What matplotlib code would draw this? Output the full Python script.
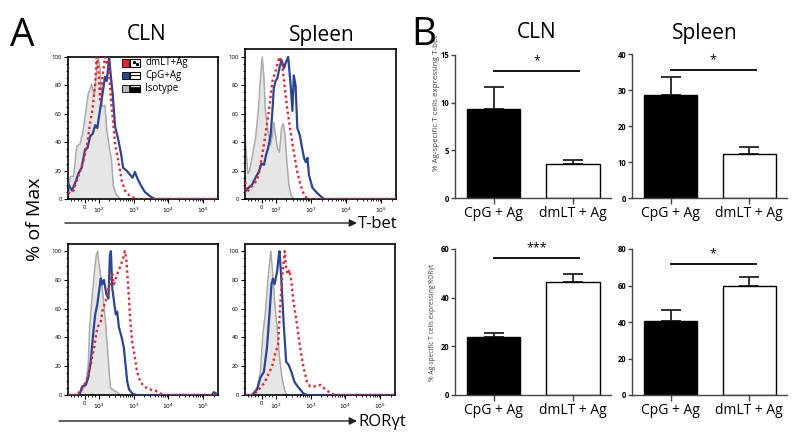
import matplotlib
matplotlib.use("Agg")
import matplotlib.pyplot as plt
from matplotlib.patches import Rectangle, FancyArrowPatch
import numpy as np

plt.rcParams['font.family'] = ['Open Sans', 'DejaVu Sans']

# ---- panel A: flow histograms (x in decades, "0" sits at 1.6; y = % of max)
tbet_cln_iso_x = [1.12, 1.16, 1.20, 1.28, 1.37, 1.47, 1.56, 1.61, 1.70, 1.80, 1.87, 1.94, 1.99, 2.04, 2.10, 2.18, 2.23, 2.30, 2.37, 2.42, 2.51, 2.61]
tbet_cln_iso_y = [0, 13, 16, 16, 37, 39, 49, 58, 74, 81, 72, 91, 100, 91, 65, 66, 49, 37, 27, 9, 3, 0]
tbet_cln_cpg_x = [1.12, 1.23, 1.32, 1.42, 1.51, 1.61, 1.68, 1.75, 1.83, 1.90, 1.96, 2.04, 2.11, 2.18, 2.23, 2.30, 2.35, 2.40, 2.47, 2.56, 2.64, 2.70, 2.80, 2.90, 2.97, 3.04, 3.10, 3.20, 3.32, 3.47, 3.61, 5.45]
tbet_cln_cpg_y = [11, 6, 11, 18, 22, 35, 36, 44, 46, 52, 50, 63, 74, 86, 83, 100, 86, 74, 51, 42, 32, 22, 20, 17, 15, 19, 15, 10, 5, 2, 0, 0]
tbet_cln_dm_x = [1.12, 1.18, 1.28, 1.37, 1.47, 1.56, 1.66, 1.75, 1.83, 1.90, 1.94, 1.99, 2.04, 2.11, 2.18, 2.23, 2.28, 2.32, 2.37, 2.47, 2.56, 2.66, 2.75, 2.90, 3.09, 5.45]
tbet_cln_dm_y = [5, 4, 6, 13, 20, 27, 37, 53, 65, 81, 100, 91, 70, 86, 100, 96, 98, 81, 65, 39, 27, 13, 6, 2, 0, 0]

tbet_spl_iso_x = [1.12, 1.15, 1.20, 1.25, 1.32, 1.42, 1.50, 1.56, 1.61, 1.66, 1.70, 1.78, 1.85, 1.90, 1.94, 1.99, 2.04, 2.10, 2.16, 2.21, 2.26, 2.32, 2.37, 2.44, 2.51]
tbet_spl_iso_y = [46, 35, 18, 20, 29, 43, 62, 85, 100, 85, 62, 47, 38, 45, 54, 45, 36, 33, 50, 53, 45, 24, 10, 2, 0]
tbet_spl_cpg_x = [1.12, 1.18, 1.32, 1.42, 1.51, 1.59, 1.66, 1.72, 1.78, 1.85, 1.90, 1.94, 1.99, 2.04, 2.10, 2.16, 2.23, 2.28, 2.35, 2.42, 2.47, 2.51, 2.56, 2.61, 2.68, 2.73, 2.80, 2.85, 2.90, 2.94, 3.04, 3.18, 3.37, 5.45]
tbet_spl_cpg_y = [5, 7, 10, 15, 19, 25, 24, 31, 36, 45, 62, 78, 83, 85, 92, 98, 92, 96, 100, 80, 62, 87, 80, 50, 45, 38, 29, 26, 29, 17, 8, 4, 0, 0]
tbet_spl_dm_x = [1.12, 1.18, 1.28, 1.42, 1.51, 1.61, 1.70, 1.80, 1.90, 1.99, 2.07, 2.10, 2.18, 2.23, 2.32, 2.42, 2.51, 2.61, 2.70, 2.80, 2.90, 5.45]
tbet_spl_dm_y = [12, 5, 8, 12, 17, 31, 45, 62, 83, 90, 97, 100, 94, 83, 64, 47, 33, 19, 10, 3, 0, 0]

ror_cln_iso_x = [1.12, 1.44, 1.53, 1.63, 1.70, 1.74, 1.80, 1.87, 1.93, 1.97, 2.01, 2.09, 2.15, 2.20, 2.25, 2.30, 2.34, 2.44, 2.53, 2.63]
ror_cln_iso_y = [0, 0, 3, 7, 21, 47, 65, 84, 97, 100, 91, 77, 63, 49, 33, 16, 5, 3, 2, 0]
ror_cln_cpg_x = [1.12, 1.44, 1.53, 1.63, 1.70, 1.77, 1.84, 1.90, 1.96, 2.01, 2.06, 2.10, 2.15, 2.22, 2.28, 2.32, 2.35, 2.39, 2.44, 2.49, 2.53, 2.58, 2.66, 2.72, 2.77, 2.82, 2.87, 2.96, 3.10, 5.25, 5.30, 5.36, 5.42]
ror_cln_cpg_y = [0, 0, 6, 7, 12, 23, 42, 56, 63, 72, 81, 77, 80, 70, 67, 97, 100, 74, 65, 56, 58, 47, 40, 33, 21, 9, 4, 1, 0, 0, 2, 1, 0]
ror_cln_dm_x = [1.12, 1.39, 1.49, 1.58, 1.68, 1.77, 1.87, 1.96, 2.06, 2.12, 2.20, 2.28, 2.34, 2.39, 2.44, 2.49, 2.56, 2.63, 2.70, 2.75, 2.79, 2.85, 2.91, 2.96, 3.04, 3.10, 3.20, 3.30, 3.44, 3.63, 3.77, 3.91, 5.42]
ror_cln_dm_y = [0, 0, 4, 7, 12, 21, 33, 47, 51, 60, 65, 74, 79, 84, 77, 81, 86, 90, 95, 100, 95, 74, 51, 37, 26, 16, 9, 6, 4, 3, 1, 0, 0]

ror_spl_iso_x = [1.12, 1.32, 1.47, 1.56, 1.63, 1.70, 1.78, 1.86, 1.91, 1.97, 2.04, 2.10, 2.18, 2.26, 2.32]
ror_spl_iso_y = [0, 0, 5, 16, 42, 56, 81, 100, 86, 65, 47, 28, 12, 3, 0]
ror_spl_cpg_x = [1.12, 1.32, 1.47, 1.56, 1.66, 1.75, 1.82, 1.88, 1.92, 1.97, 2.04, 2.09, 2.11, 2.16, 2.23, 2.30, 2.37, 2.45, 2.54, 2.66, 2.80, 2.90, 5.42]
ror_spl_cpg_y = [0, 0, 4, 12, 16, 33, 56, 77, 81, 77, 86, 97, 100, 81, 49, 23, 21, 16, 9, 5, 1, 0, 0]
ror_spl_dm_x = [1.12, 1.37, 1.47, 1.56, 1.69, 1.80, 1.90, 1.99, 2.07, 2.13, 2.20, 2.26, 2.30, 2.35, 2.39, 2.45, 2.51, 2.61, 2.70, 2.80, 2.90, 2.99, 3.13, 3.28, 3.37, 3.47, 3.61, 3.70, 5.42]
ror_spl_dm_y = [0, 0, 3, 5, 9, 15, 20, 29, 35, 63, 86, 100, 88, 84, 87, 79, 65, 49, 33, 19, 9, 6, 6, 7, 5, 3, 1, 0, 0]

hist_tick_pos = [1.6, 2, 3, 4, 5]
hist_tick_lab = ['0', '$10^2$', '$10^3$', '$10^4$', '$10^5$']
legend_names = ['dmLT+Ag', 'CpG+Ag', 'Isotype']

# ---- panel B: bar charts
groups = ['CpG + Ag', 'dmLT + Ag']
tbet_cln_mean = [9.3, 3.6]
tbet_cln_err = [2.3, 0.4]
tbet_spl_mean = [28.6, 12.2]
tbet_spl_err = [4.9, 2.0]
ror_cln_mean = [23.7, 46.6]
ror_cln_err = [1.6, 3.0]
ror_spl_mean = [40.7, 59.8]
ror_spl_err = [5.8, 4.7]

RED = '#e2262f'
BLUE = '#2b4595'
W, H = 800, 438

fig = plt.figure(figsize=(8, 4.38), dpi=100)


def frame(l, t, r, b):
    return [l / W, 1 - b / H, (r - l) / W, (b - t) / H]


def px(x, y):
    return x / W, 1 - y / H


def hist(rect, top, iso_x, iso_y, cpg_x, cpg_y, dm_x, dm_y):
    ax = fig.add_axes(rect)
    ax.fill_between(iso_x, iso_y, color='#e6e6e6', lw=0, zorder=1)
    ax.plot(iso_x, iso_y, color='#aaaaaa', lw=1.1, zorder=2)
    ax.plot(cpg_x, cpg_y, color=BLUE, lw=1.6, zorder=3)
    ax.plot(dm_x, dm_y, color=RED, lw=1.7, ls=(0, (1, 1.3)), zorder=4)
    ax.set_xlim(1.12, 5.42)
    ax.set_ylim(0, top)
    ax.set_xticks(hist_tick_pos, hist_tick_lab)
    minors = [np.log10(k * 10.0 ** d) for d in (2, 3, 4) for k in range(2, 10)]
    minors += [1.2, 1.3, 1.4, 1.5, 1.7, 1.8, 1.9, 5.3]
    ax.set_xticks(minors, minor=True)
    ax.set_yticks(range(0, 101, 20))
    ax.set_yticks(range(0, 101, 5), minor=True)
    ax.tick_params(which='major', direction='out', length=3, width=0.8, labelsize=4.3, pad=1.5)
    ax.tick_params(which='minor', direction='out', length=1.5, width=0.6)
    for s in ax.spines.values():
        s.set_linewidth(1.2)
    return ax


hist(frame(68, 57, 218, 199), 100, tbet_cln_iso_x, tbet_cln_iso_y, tbet_cln_cpg_x, tbet_cln_cpg_y, tbet_cln_dm_x, tbet_cln_dm_y)
hist(frame(245, 49, 396, 199), 105.6, tbet_spl_iso_x, tbet_spl_iso_y, tbet_spl_cpg_x, tbet_spl_cpg_y, tbet_spl_dm_x, tbet_spl_dm_y)
hist(frame(68, 244, 218, 395), 105, ror_cln_iso_x, ror_cln_iso_y, ror_cln_cpg_x, ror_cln_cpg_y, ror_cln_dm_x, ror_cln_dm_y)
hist(frame(245, 244, 395, 395), 105, ror_spl_iso_x, ror_spl_iso_y, ror_spl_cpg_x, ror_spl_cpg_y, ror_spl_dm_x, ror_spl_dm_y)

# legend drawn by hand (colour swatch + little icon box)
for i, (name, col) in enumerate(zip(legend_names, [RED, BLUE, '#b8b8b8'])):
    yc = 63 + i * 12.7
    fig.add_artist(Rectangle(px(122, yc + 3.5), 7 / W, 7 / H, transform=fig.transFigure,
                             facecolor=col, edgecolor='black', lw=0.6))
    fig.add_artist(Rectangle(px(130, yc + 3.5), 10 / W, 7 / H, transform=fig.transFigure,
                             facecolor='white', edgecolor='black', lw=0.8))
    if i == 0:
        fig.add_artist(plt.Line2D([134 / W, 137 / W], [1 - (yc - 1) / H, 1 - (yc + 1) / H], transform=fig.transFigure,
                                  ls='none', marker='s', ms=1.2, color='black'))
    elif i == 1:
        fig.add_artist(plt.Line2D([130 / W, 140 / W], [1 - (yc - 0.5) / H] * 2, transform=fig.transFigure,
                                  color='black', lw=0.8))
    else:
        fig.add_artist(Rectangle(px(130, yc + 3.5), 10 / W, 3.5 / H, transform=fig.transFigure,
                                 facecolor='black', edgecolor='black', lw=0.8))
        fig.add_artist(plt.Line2D([130 / W, 140 / W], [1 - (yc - 1.8) / H] * 2, transform=fig.transFigure,
                                  color='black', lw=0.6))
    fig.text(*px(145, yc), name, fontsize=7, va='center', ha='left')

# panel A labels
fig.text(*px(22, 36), 'A', fontsize=28, ha='center', va='center')
fig.text(*px(147, 35), 'CLN', fontsize=15, ha='center', va='center')
fig.text(*px(322, 35), 'Spleen', fontsize=15, ha='center', va='center')
fig.text(*px(35, 219), '% of Max', fontsize=14, rotation=90, ha='center', va='center')

for y, x0, name in [(223, 65, 'T-bet'), (421, 59, 'RORγt')]:
    fig.add_artist(FancyArrowPatch(px(x0, y), px(357, y), transform=fig.transFigure,
                                   arrowstyle='-|>', mutation_scale=11, color='#222222', lw=1.0,
                                   shrinkA=0, shrinkB=0))
    fig.text(*px(358, y + 1), name, fontsize=12, ha='left', va='center')


# ---- panel B
def bars(rect, top, step, mean, err, sig_y, stars, ylabel=None, ylabel_pos=None, ylabel_size=5.5):
    ax = fig.add_axes(rect)
    x = np.arange(len(groups))
    ax.bar(x, mean, width=0.67, color=['black', 'white'], edgecolor='black', lw=1.0, zorder=2)
    ax.errorbar(x, mean, yerr=[[0] * len(err), err], fmt='none', ecolor='#222222',
                elinewidth=1.3, capsize=7, capthick=1.3, zorder=1)
    ax.plot([0, 1.08], [sig_y, sig_y], color='#111111', lw=1.4)
    ax.text(0.54, sig_y + top * 0.025, stars, ha='center', va='bottom', fontsize=9)
    ax.set_xlim(-0.49, 1.48)
    ax.set_ylim(0, top)
    ax.set_xticks(x, groups, fontsize=10)
    ax.set_yticks(np.arange(0, top + 0.1, step))
    ax.tick_params(axis='x', length=4, width=1, pad=2, color='#444444')
    ax.tick_params(axis='y', length=3, width=1, pad=1, labelsize=5.5, color='#444444')
    for lab in ax.get_yticklabels():
        lab.set_fontweight('bold')
    for s in ['top', 'right']:
        ax.spines[s].set_visible(False)
    for s in ['left', 'bottom']:
        ax.spines[s].set_color('#444444')
        ax.spines[s].set_linewidth(1.0)
    if ylabel:
        fig.text(*px(*ylabel_pos), ylabel, rotation=90, fontsize=ylabel_size, color='#444444',
                 ha='center', va='center')
    return ax


bars(frame(455, 55, 611, 198), 15, 5, tbet_cln_mean, tbet_cln_err, 13.3, '*',
     '% Ag-specific T cells expressing T-bet', (437, 103), 5.8)
bars(frame(632, 54, 787, 198), 40, 10, tbet_spl_mean, tbet_spl_err, 35.6, '*')
bars(frame(455, 249, 611, 395), 60, 20, ror_cln_mean, ror_cln_err, 56.3, '***',
     '% Ag-specific T cells expressing RORγt', (433, 322), 4.8)
bars(frame(632, 249, 787, 395), 80, 20, ror_spl_mean, ror_spl_err, 71.8, '*')

fig.text(*px(424, 35), 'B', fontsize=28, ha='center', va='center')
fig.text(*px(537, 33), 'CLN', fontsize=15, ha='center', va='center')
fig.text(*px(705, 34), 'Spleen', fontsize=15, ha='center', va='center')

fig.savefig('out.png', dpi=100)
